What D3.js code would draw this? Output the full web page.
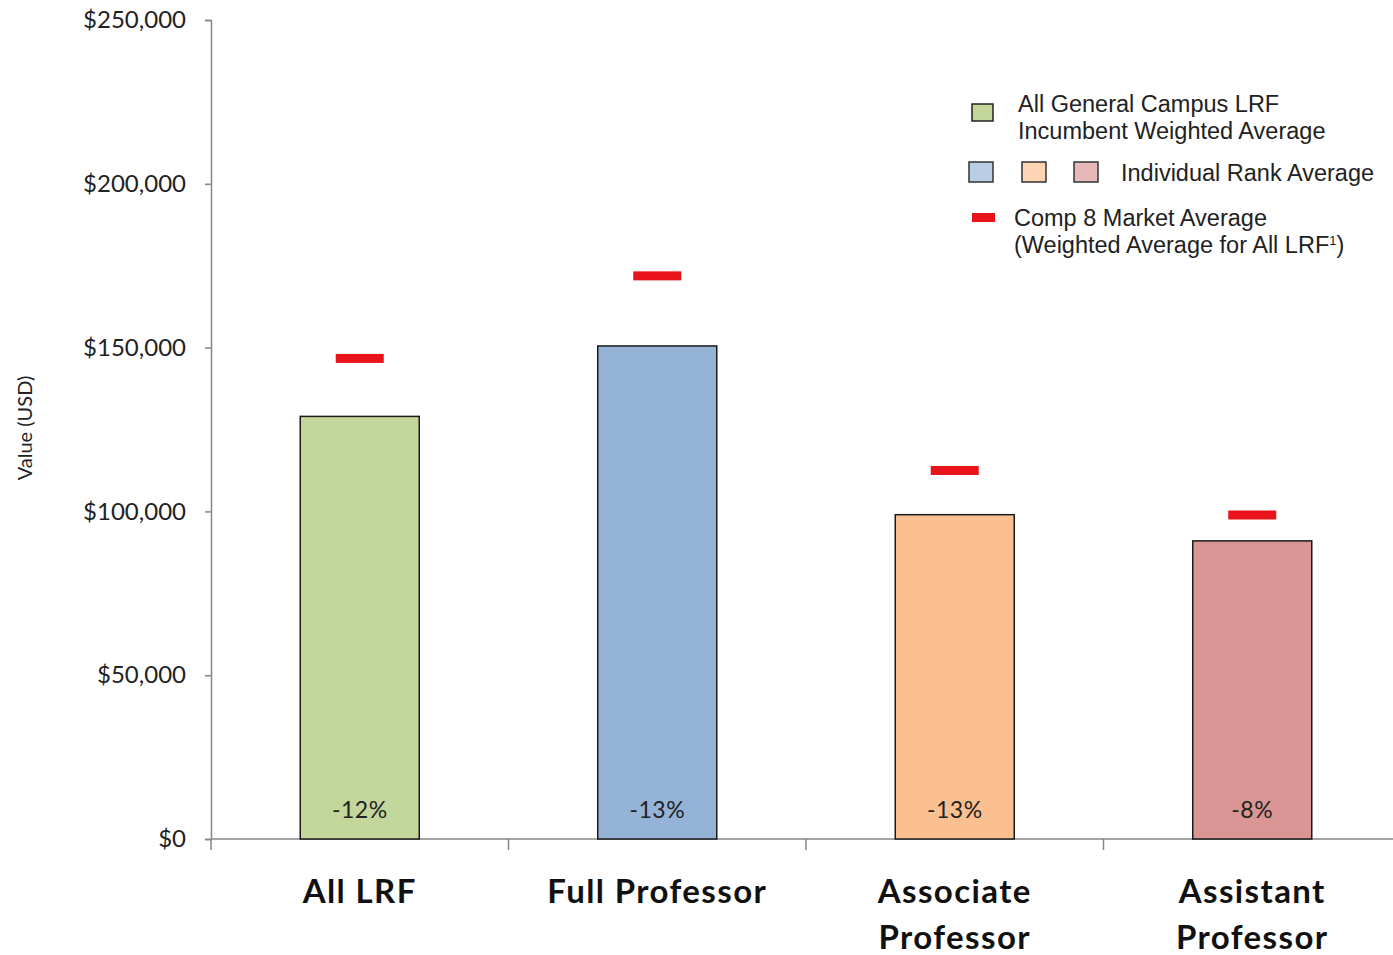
<!DOCTYPE html>
<html>
<head>
<meta charset="utf-8">
<script src="https://cdn.jsdelivr.net/npm/d3@7"></script>
<style>
  body { margin: 0; background: #fff; }
  svg { display: block; }
</style>
</head>
<body>
<svg id="chart"></svg>
<script>
// chart data
var categories = ["All LRF", "Full Professor", "Associate Professor", "Assistant Professor"];
var campusAvg = [129000, 150500, 99000, 91000];
var marketAvg = [146700, 171900, 112500, 98900];
var gapLabels = ["-12%", "-13%", "-13%", "-8%"];
var yTicks = [0, 50000, 100000, 150000, 200000, 250000];

var barColors = ["#c3d69b", "#95b3d7", "#fac090", "#d99694"];

var svgWidth = 1393, svgHeight = 955;
var svg = d3.select("#chart")
  .attr("width", svgWidth)
  .attr("height", svgHeight);

var x = d3.scaleBand()
  .domain(categories)
  .range([211, 1401])
  .paddingInner(0.6)
  .paddingOuter(0.3);

var y = d3.scaleLinear()
  .domain([0, 250000])
  .range([839, 20]);

var fmt = d3.format("$,");

// y axis
var yAxis = svg.append("g")
  .attr("transform", "translate(211,0)")
  .call(d3.axisLeft(y).tickValues(yTicks).tickFormat(fmt).tickSize(6).tickPadding(19));
yAxis.select(".domain").attr("stroke", "#868686").attr("stroke-width", 1.5);
yAxis.selectAll(".tick line").attr("stroke", "#868686").attr("stroke-width", 1.5);
yAxis.selectAll(".tick text")
  .attr("font-family", "Lato, 'Open Sans', sans-serif")
  .attr("font-size", 24)
  .attr("fill", "#222");

svg.append("text")
  .attr("transform", "translate(32,428) rotate(-90)")
  .attr("text-anchor", "middle")
  .attr("font-family", "Lato, 'Open Sans', sans-serif")
  .attr("font-size", 20)
  .attr("fill", "#222")
  .text("Value (USD)");

// x axis line + category boundary ticks
var step = x.step();
var bounds = d3.range(categories.length + 1).map(function (i) { return x.range()[0] + i * step; });
svg.append("line")
  .attr("x1", x.range()[0]).attr("x2", x.range()[1])
  .attr("y1", y(0)).attr("y2", y(0))
  .attr("stroke", "#868686").attr("stroke-width", 1.5);
svg.selectAll(".xtick")
  .data(bounds)
  .enter().append("line")
  .attr("class", "xtick")
  .attr("x1", function (d) { return d; }).attr("x2", function (d) { return d; })
  .attr("y1", y(0)).attr("y2", y(0) + 11)
  .attr("stroke", "#868686").attr("stroke-width", 1.5);

// category labels (two-line for the longer rank names)
var catLabels = svg.selectAll(".cat")
  .data(categories)
  .enter().append("text")
  .attr("class", "cat")
  .attr("text-anchor", "middle")
  .attr("font-family", "Lato, 'Open Sans', sans-serif")
  .attr("font-weight", "bold")
  .attr("font-size", 33)
  .attr("letter-spacing", 1.4)
  .attr("fill", "#111");
catLabels.each(function (d) {
  var lines = (d === "All LRF" || d === "Full Professor") ? [d] : d.split(" ");
  var t = d3.select(this);
  lines.forEach(function (ln, i) {
    t.append("tspan")
      .attr("x", x(d) + x.bandwidth() / 2)
      .attr("y", 903 + i * 46)
      .text(ln);
  });
});

// bars
var data = categories.map(function (c, i) {
  return { cat: c, value: campusAvg[i], market: marketAvg[i], gap: gapLabels[i], color: barColors[i] };
});

svg.selectAll(".bar")
  .data(data)
  .enter().append("rect")
  .attr("class", "bar")
  .attr("x", function (d) { return x(d.cat); })
  .attr("y", function (d) { return y(d.value); })
  .attr("width", x.bandwidth())
  .attr("height", function (d) { return y(0) - y(d.value); })
  .attr("fill", function (d) { return d.color; })
  .attr("stroke", "#1a1a1a")
  .attr("stroke-width", 1.5);

// market average markers
var markW = 48, markH = 9;
svg.selectAll(".mark")
  .data(data)
  .enter().append("rect")
  .attr("class", "mark")
  .attr("x", function (d) { return x(d.cat) + x.bandwidth() / 2 - markW / 2; })
  .attr("y", function (d) { return y(d.market) - markH / 2; })
  .attr("width", markW)
  .attr("height", markH)
  .attr("fill", "#e8131b");

// gap labels
svg.selectAll(".gap")
  .data(data)
  .enter().append("text")
  .attr("class", "gap")
  .attr("x", function (d) { return x(d.cat) + x.bandwidth() / 2; })
  .attr("y", 818)
  .attr("text-anchor", "middle")
  .attr("font-family", "Lato, 'Open Sans', sans-serif")
  .attr("font-size", 23)
  .attr("letter-spacing", 0.5)
  .attr("fill", "#222")
  .text(function (d) { return d.gap; });

// legend
var lg = svg.append("g")
  .attr("font-family", "'Liberation Sans', Arial, sans-serif")
  .attr("font-size", 23.5)
  .attr("fill", "#222");

lg.append("rect").attr("x", 972).attr("y", 104).attr("width", 21).attr("height", 17)
  .attr("fill", barColors[0]).attr("stroke", "#222").attr("stroke-width", 1.5);
lg.append("text").attr("x", 1018).attr("y", 112).text("All General Campus LRF");
lg.append("text").attr("x", 1018).attr("y", 139).text("Incumbent Weighted Average");

[[969, "#b9cde5"], [1022, "#fcd5b5"], [1074, "#e6b9b8"]].forEach(function (b) {
  lg.append("rect").attr("x", b[0]).attr("y", 162).attr("width", 24).attr("height", 20)
    .attr("fill", b[1]).attr("stroke", "#333").attr("stroke-width", 1.5);
});
lg.append("text").attr("x", 1121).attr("y", 181).text("Individual Rank Average");

lg.append("rect").attr("x", 972).attr("y", 213).attr("width", 23).attr("height", 9)
  .attr("fill", "#e8131b");
lg.append("text").attr("x", 1014).attr("y", 226).text("Comp 8 Market Average");
var l2 = lg.append("text").attr("x", 1014).attr("y", 253).text("(Weighted Average for All LRF");
l2.append("tspan").attr("font-size", 13).attr("dy", -8).text("1");
l2.append("tspan").attr("dy", 8).text(")");
</script>
</body>
</html>
